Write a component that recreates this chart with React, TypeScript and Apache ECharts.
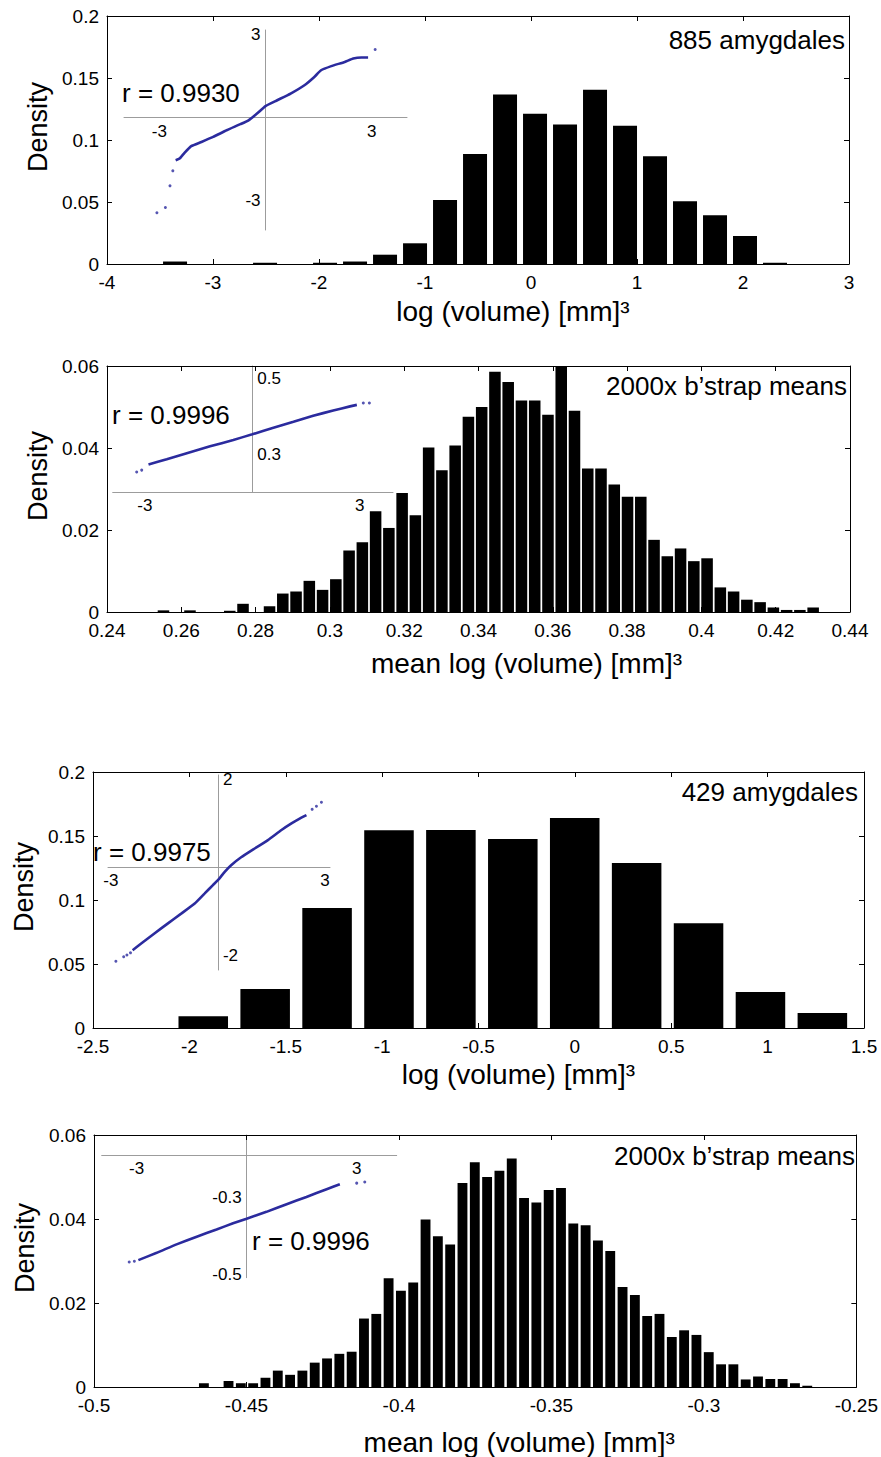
import React, { useEffect, useRef } from "react";
import * as echarts from "echarts";

const FONT = "'Liberation Sans', Arial, Helvetica, sans-serif";

// ---------- Panel 1: 885 amygdales (histogram of log volume) ----------
const p1BinStart = -3.358;
const p1BinWidth = 0.283;
const p1Density = [0.002, 0, 0, 0.001, 0, 0.001, 0.002, 0.0075, 0.0167, 0.0517, 0.0888, 0.1367, 0.1211, 0.1125, 0.1405, 0.1114, 0.0869, 0.0506, 0.0393, 0.0226, 0.001];
const qq1Line = [[-2.54, -1.54], [-2.43, -1.48], [-2.29, -1.27], [-2.1, -1.03], [-1.81, -0.88], [-1.48, -0.7], [-1.1, -0.46], [-0.71, -0.24], [-0.48, -0.1], [-0.24, 0.14], [0, 0.41], [0.33, 0.62], [0.71, 0.86], [1.1, 1.16], [1.38, 1.46], [1.57, 1.7], [1.86, 1.85], [2.24, 2.0], [2.48, 2.12], [2.71, 2.16], [2.9, 2.16]];
const qq1Dots = [[-3.07, -3.43], [-2.83, -3.24], [-2.7, -2.46], [-2.62, -1.92], [3.1, 2.45]];

// ---------- Panel 2: 2000x bootstrap means (885) ----------
const p2BinStart = 0.2552;
const p2BinWidth = 0.003569;
const p2Density = [0.0004, 0, 0.0004, 0, 0, 0.0003, 0.002, 0, 0.0014, 0.0045, 0.005, 0.0076, 0.0054, 0.008, 0.015, 0.017, 0.0246, 0.0205, 0.029, 0.0236, 0.0401, 0.0346, 0.0406, 0.0476, 0.05, 0.0586, 0.0561, 0.0516, 0.0516, 0.0481, 0.0598, 0.0491, 0.035, 0.035, 0.0311, 0.0281, 0.0281, 0.0176, 0.0136, 0.0155, 0.0124, 0.0131, 0.006, 0.005, 0.003, 0.0024, 0.0011, 0.0005, 0.0005, 0.0011];
const qq2Line = [[-2.9, 0.273], [-2.39, 0.287], [-1.83, 0.303], [-1.18, 0.321], [-0.53, 0.338], [0, 0.353], [0.59, 0.37], [1.15, 0.386], [1.7, 0.402], [2.26, 0.416], [2.73, 0.427], [2.92, 0.431]];
const qq2Dots = [[-3.23, 0.253], [-3.09, 0.258], [3.1, 0.436], [3.27, 0.436]];

// ---------- Panel 3: 429 amygdales ----------
const p3BinStart = -1.928;
const p3BinWidth = 0.3212;
const p3Density = [0.0091, 0.0305, 0.0938, 0.1544, 0.1547, 0.1477, 0.164, 0.1289, 0.0818, 0.0281, 0.0117];
const qq3Line = [[-2.39, -1.88], [-2.15, -1.73], [-1.78, -1.5], [-1.4, -1.27], [-1.03, -1.05], [-0.65, -0.82], [-0.37, -0.59], [-0.14, -0.4], [0, -0.29], [0.19, -0.1], [0.37, 0.05], [0.65, 0.23], [1.03, 0.43], [1.4, 0.62], [1.78, 0.85], [2.06, 1.0], [2.29, 1.11], [2.48, 1.19]];
const qq3Dots = [[-2.86, -2.13], [-2.64, -2.03], [-2.55, -1.99], [-2.45, -1.94], [2.64, 1.32], [2.76, 1.39], [2.9, 1.48]];

// ---------- Panel 4: 2000x bootstrap means (429) ----------
const p4BinStart = -0.46396;
const p4BinWidth = 0.004038;
const p4Density = [0.0009, 0, 0.0014, 0.0009, 0.0009, 0.0022, 0.0039, 0.0029, 0.0039, 0.0058, 0.0068, 0.0079, 0.0084, 0.0163, 0.0174, 0.0259, 0.0229, 0.0249, 0.0399, 0.0359, 0.0339, 0.0486, 0.0535, 0.05, 0.0515, 0.0544, 0.045, 0.0439, 0.0469, 0.0474, 0.0389, 0.0385, 0.0349, 0.0324, 0.0238, 0.0219, 0.0169, 0.0174, 0.0119, 0.0135, 0.0124, 0.0083, 0.0054, 0.0054, 0.0018, 0.0025, 0.0019, 0.0019, 0.0009, 0.0003];
const qq4Line = [[-2.95, -0.463], [-2.45, -0.444], [-1.91, -0.422], [-1.36, -0.402], [-0.82, -0.383], [-0.37, -0.367], [0, -0.355], [0.54, -0.337], [1.09, -0.317], [1.63, -0.298], [2.18, -0.278], [2.54, -0.265]];
const qq4Dots = [[-3.2, -0.468], [-3.06, -0.466], [3.0, -0.262], [3.22, -0.259]];

// inset tick label values
const inset1XLabels = [-3, 3];
const inset1YLabels = [-3, 3];
const inset2XLabels = [-3, 3];
const inset2YLabels = [0.3, 0.5];
const inset3XLabels = [-3, 3];
const inset3YLabels = [-2, 2];
const inset4XLabels = [-3, 3];
const inset4YLabels = [-0.5, -0.3];

const notes = ["885 amygdales", "2000x b\u2019strap means", "429 amygdales", "2000x b\u2019strap means"];
const rTexts = ["r = 0.9930", "r = 0.9996", "r = 0.9975", "r = 0.9996"];
const xNames = ["log (volume) [mm]\u00b3", "mean log (volume) [mm]\u00b3", "log (volume) [mm]\u00b3", "mean log (volume) [mm]\u00b3"];

const panels = [
  {
    grid: { left: 107, top: 16, width: 742, height: 248 },
    xMin: -4, xMax: 3, xInt: 1, yMax: 0.2, yInt: 0.05, nameGap: 33, namePad: 70,
    binStart: p1BinStart, binWidth: p1BinWidth, dens: p1Density, frac: 0.8,
    inset: { grid: { left: 124, top: 30, width: 283, height: 200 }, xMin: -4, xMax: 4, yMin: -4.05, yMax: 3.15, xLabels: inset1XLabels, yLabels: inset1YLabels, yInside: false, xTop: false, line: qq1Line, dots: qq1Dots },
    note: { x: 845, y: 40 }, r: { x: 122, y: 93 },
  },
  {
    grid: { left: 107, top: 366, width: 743, height: 246 },
    xMin: 0.24, xMax: 0.44, xInt: 0.02, yMax: 0.06, yInt: 0.02, nameGap: 37, namePad: 96,
    binStart: p2BinStart, binWidth: p2BinWidth, dens: p2Density, frac: 0.87,
    inset: { grid: { left: 112.7, top: 366, width: 280.3, height: 126 }, xMin: -3.9, xMax: 3.93, yMin: 0.2, yMax: 0.534, xLabels: inset2XLabels, yLabels: inset2YLabels, yInside: true, xTop: false, line: qq2Line, dots: qq2Dots },
    note: { x: 847, y: 386 }, r: { x: 112, y: 415 },
  },
  {
    grid: { left: 93, top: 772, width: 771, height: 256 },
    xMin: -2.5, xMax: 1.5, xInt: 0.5, yMax: 0.2, yInt: 0.05, nameGap: 32, namePad: 80,
    binStart: p3BinStart, binWidth: p3BinWidth, dens: p3Density, frac: 0.8,
    inset: { grid: { left: 108, top: 775, width: 222, height: 195 }, xMin: -3.08, xMax: 3.14, yMin: -2.33, yMax: 2.1, xLabels: inset3XLabels, yLabels: inset3YLabels, yInside: true, xTop: false, line: qq3Line, dots: qq3Dots },
    note: { x: 858, y: 792 }, r: { x: 93, y: 852 },
  },
  {
    grid: { left: 94, top: 1135, width: 768, height: 257 },
    xMin: -0.5, xMax: -0.25, xInt: 0.05, yMax: 0.06, yInt: 0.02, nameGap: 41, namePad: 88,
    binStart: p4BinStart, binWidth: p4BinWidth, dens: p4Density, frac: 0.8,
    inset: { grid: { left: 101.7, top: 1135, width: 295, height: 142.7 }, xMin: -3.95, xMax: 4.09, yMin: -0.509, yMax: -0.1363, xLabels: inset4XLabels, yLabels: inset4YLabels, yInside: false, xTop: true, line: qq4Line, dots: qq4Dots },
    note: { x: 855, y: 1156 }, r: { x: 252, y: 1241 },
  },
];

function buildOption() {
  const grid: any[] = [];
  const xAxis: any[] = [];
  const yAxis: any[] = [];
  const series: any[] = [];
  const graphic: any[] = [];
  const BLUE = "#2b2b9e";
  const GRAY = "#9c9c9c";

  panels.forEach((p, pi) => {
    const g = grid.length;
    grid.push({ ...p.grid, containLabel: false });
    const xMain = xAxis.length;
    xAxis.push({
      type: "value", gridIndex: g, min: p.xMin, max: p.xMax, interval: p.xInt, position: "bottom",
      axisLine: { show: true, onZero: false, lineStyle: { color: "#000", width: 1 } },
      axisTick: { show: true, inside: true, length: 5, lineStyle: { color: "#000" } },
      axisLabel: { show: true, margin: 9, color: "#000", fontSize: 19, fontFamily: FONT },
      splitLine: { show: false },
      name: xNames[pi], nameLocation: "middle", nameGap: p.nameGap,
      nameTextStyle: { fontSize: 28, color: "#000", fontFamily: FONT, padding: [0, 0, 0, p.namePad] },
    });
    xAxis.push({
      type: "value", gridIndex: g, min: p.xMin, max: p.xMax, interval: p.xInt, position: "top",
      axisLine: { show: true, onZero: false, lineStyle: { color: "#000", width: 1 } },
      axisTick: { show: true, inside: true, length: 5, lineStyle: { color: "#000" } },
      axisLabel: { show: false }, splitLine: { show: false },
    });
    const yMain = yAxis.length;
    yAxis.push({
      type: "value", gridIndex: g, min: 0, max: p.yMax, interval: p.yInt, position: "left",
      axisLine: { show: true, onZero: false, lineStyle: { color: "#000", width: 1 } },
      axisTick: { show: true, inside: true, length: 5, lineStyle: { color: "#000" } },
      axisLabel: { show: true, margin: 8, color: "#000", fontSize: 19, fontFamily: FONT },
      splitLine: { show: false },
      name: "Density", nameLocation: "middle", nameGap: 55,
      nameTextStyle: { fontSize: 27, color: "#000", fontFamily: FONT, padding: [0, 0, 0, 26] },
    });
    yAxis.push({
      type: "value", gridIndex: g, min: 0, max: p.yMax, interval: p.yInt, position: "right",
      axisLine: { show: true, onZero: false, lineStyle: { color: "#000", width: 1 } },
      axisTick: { show: true, inside: true, length: 5, lineStyle: { color: "#000" } },
      axisLabel: { show: false }, splitLine: { show: false },
    });

    const half = (p.binWidth * p.frac) / 2;
    series.push({
      type: "custom", xAxisIndex: xMain, yAxisIndex: yMain, silent: true, z: 2,
      data: p.dens.map((d, i) => [p.binStart + i * p.binWidth, d]),
      encode: { x: 0, y: 1 },
      renderItem: (_params: any, api: any) => {
        const c = api.value(0);
        const v = api.value(1);
        if (!v) return null;
        const a = api.coord([c - half, v]);
        const b = api.coord([c + half, 0]);
        return { type: "rect", shape: { x: a[0], y: a[1], width: b[0] - a[0], height: b[1] - a[1] }, style: { fill: "#000" } };
      },
    });

    // inset Q-Q plot: axes cross at zero (done with offsets so labels follow the lines)
    const s = p.inset;
    const gi = grid.length;
    grid.push({ ...s.grid, containLabel: false });
    const yZeroInRange = s.yMin < 0 && s.yMax > 0;
    const xOffset = s.xTop ? -20 : yZeroInRange ? -((0 - s.yMin) / (s.yMax - s.yMin)) * s.grid.height : 0;
    const yOffset = -((0 - s.xMin) / (s.xMax - s.xMin)) * s.grid.width;
    const xi = xAxis.length;
    xAxis.push({
      type: "value", gridIndex: gi, min: s.xMin, max: s.xMax, position: s.xTop ? "top" : "bottom",
      offset: xOffset,
      axisLine: { show: true, onZero: false, lineStyle: { color: GRAY, width: 1 } },
      axisTick: { show: false },
      axisLabel: { show: true, customValues: s.xLabels, inside: s.xTop, margin: 5, color: "#000", fontSize: 17, fontFamily: FONT },
      splitLine: { show: false },
    });
    const yi = yAxis.length;
    yAxis.push({
      type: "value", gridIndex: gi, min: s.yMin, max: s.yMax, position: "left",
      offset: yOffset,
      axisLine: { show: true, onZero: false, lineStyle: { color: GRAY, width: 1 } },
      axisTick: { show: false },
      axisLabel: { show: true, customValues: s.yLabels, inside: s.yInside, margin: 5, color: "#000", fontSize: 17, fontFamily: FONT },
      splitLine: { show: false },
    });
    series.push({
      type: "line", xAxisIndex: xi, yAxisIndex: yi, data: s.line, showSymbol: false, silent: true, z: 5,
      smooth: 0.15, lineStyle: { color: BLUE, width: 2.6 },
    });
    series.push({
      type: "scatter", xAxisIndex: xi, yAxisIndex: yi, data: s.dots, symbol: "circle", symbolSize: 3, silent: true, z: 5,
      itemStyle: { color: BLUE },
    });

    graphic.push({
      type: "text", x: p.note.x, y: p.note.y, z: 10,
      style: { text: notes[pi], fill: "#000", fontSize: 26, fontFamily: FONT, align: "right", verticalAlign: "middle", textAlign: "right", textVerticalAlign: "middle" },
    });
    graphic.push({
      type: "text", x: p.r.x, y: p.r.y, z: 10,
      style: { text: rTexts[pi], fill: "#000", fontSize: 26, fontFamily: FONT, align: "left", verticalAlign: "middle", textAlign: "left", textVerticalAlign: "middle" },
    });
  });

  return {
    animation: false,
    backgroundColor: "#fff",
    textStyle: { fontFamily: FONT },
    grid, xAxis, yAxis, series, graphic,
  };
}

export default function App() {
  const ref = useRef<HTMLDivElement>(null);
  useEffect(() => {
    if (!ref.current) return;
    const chart = echarts.init(ref.current, null, { renderer: "svg" });
    chart.setOption(buildOption() as any);
    return () => chart.dispose();
  }, []);
  return (
    <div
      ref={ref}
      style={{ position: "absolute", left: 0, top: 0, width: 881, height: 1457, background: "#fff" }}
    />
  );
}
